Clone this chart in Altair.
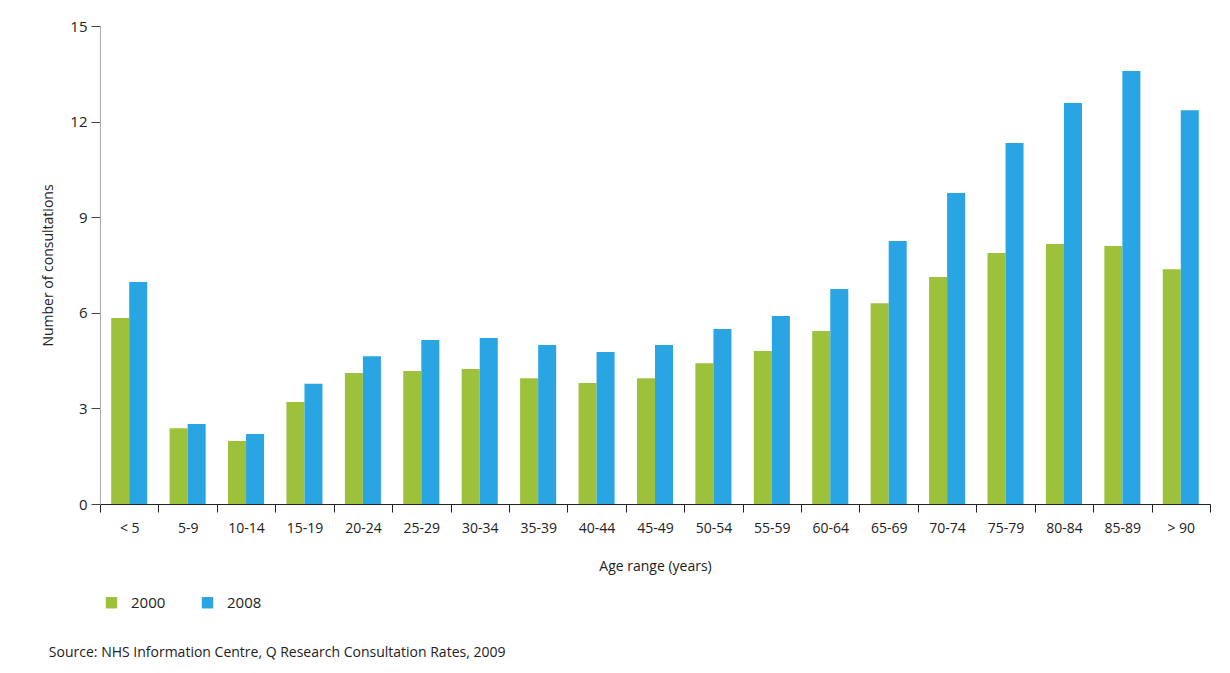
import altair as alt
import pandas as pd

ages = ["< 5", "5-9", "10-14", "15-19", "20-24", "25-29", "30-34", "35-39", "40-44",
        "45-49", "50-54", "55-59", "60-64", "65-69", "70-74", "75-79", "80-84", "85-89", "> 90"]
v2000 = [5.84, 2.38, 1.98, 3.2, 4.11, 4.17, 4.24, 3.95, 3.8, 3.95, 4.42, 4.8, 5.43, 6.3,
         7.12, 7.88, 8.16, 8.1, 7.37]
v2008 = [6.97, 2.51, 2.2, 3.77, 4.64, 5.15, 5.21, 4.99, 4.77, 4.99, 5.49, 5.9, 6.75, 8.25,
         9.76, 11.33, 12.58, 13.59, 12.36]
years = ["2000", "2008"]
colors = ["#9dc13b", "#2aa5e3"]
source = "Source: NHS Information Centre, Q Research Consultation Rates, 2009"

rows = []
for a, g, b in zip(ages, v2000, v2008):
    rows.append({"age": a, "year": years[0], "value": g})
    rows.append({"age": a, "year": years[1], "value": b})
df = pd.DataFrame(rows)

FONT = "Open Sans, sans-serif"

chart = alt.Chart(df).mark_bar().encode(
    x=alt.X("age:N", sort=ages, title="Age range (years)",
            scale=alt.Scale(paddingInner=0, paddingOuter=0),
            axis=alt.Axis(labelAngle=0, tickBand="extent", domainColor="#222",
                          tickColor="#222", tickSize=8, labelFontSize=14,
                          labelColor="#222", labelPadding=9, titleFontSize=14,
                          titleFontWeight="normal", titleColor="#222", titlePadding=24,
                          labelFont=FONT, titleFont=FONT)),
    xOffset=alt.XOffset("year:N", sort=years,
                        scale=alt.Scale(paddingInner=0, paddingOuter=0.62)),
    y=alt.Y("value:Q", title="Number of consultations",
            scale=alt.Scale(domain=[0, 15], nice=False),
            axis=alt.Axis(values=[0, 3, 6, 9, 12, 15], grid=False, domainColor="#aaa",
                          tickColor="#444", tickSize=9, labelFontSize=15,
                          labelColor="#222", labelPadding=4, titleFontSize=14,
                          titleFontWeight="normal", titleColor="#222", titlePadding=14,
                          labelFont=FONT, titleFont=FONT)),
    color=alt.Color("year:N", sort=years,
                    scale=alt.Scale(domain=years, range=colors),
                    legend=alt.Legend(title=None, orient="none", direction="horizontal",
                                      legendX=4, legendY=91 + 478, symbolType="square",
                                      symbolSize=130, symbolOpacity=1, labelFontSize=15,
                                      labelColor="#222", labelFont=FONT, columnPadding=34,
                                      labelOffset=12)),
).properties(
    width=1110,
    height=478,
    padding={"left": 92, "top": 18, "right": 10, "bottom": 166},
    autosize=alt.AutoSizeParams(type="none"),
    title=alt.TitleParams(source, orient="bottom", anchor="start", dx=7, offset=35,
                          fontSize=14, fontWeight="normal", color="#222", font=FONT),
).configure_view(stroke=None)

chart.save("out.html", embed_options={"renderer": "svg", "actions": False})
